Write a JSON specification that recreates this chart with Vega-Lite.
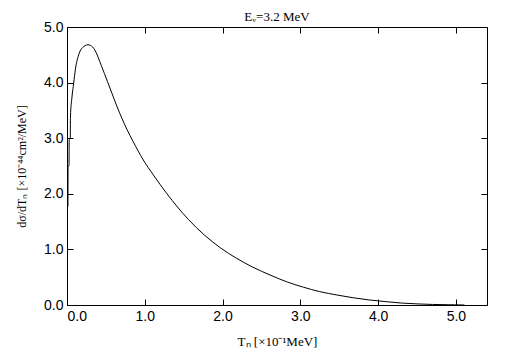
{
  "$schema": "https://vega.github.io/schema/vega-lite/v6.json",
  "width": 420,
  "height": 278,
  "autosize": {"type": "none"},
  "padding": {"left": 67, "top": 27, "right": 18, "bottom": 56},
  "background": "white",
  "title": {"text": "Eᵥ=3.2 MeV", "font": "Liberation Serif", "fontSize": 13, "fontWeight": "normal", "color": "black", "offset": -4, "anchor": "middle"},
  "config": {
    "view": {"stroke": "black", "strokeWidth": 1},
    "axis": {"domain": false, "grid": false, "tickColor": "black", "tickSize": -6, "tickWidth": 1,
      "labelFont": "Liberation Sans", "labelFontSize": 14, "labelColor": "black",
      "titleFont": "Liberation Serif", "titleFontSize": 13, "titleFontWeight": "normal", "titleColor": "black"}
  },
  "data": {"values": [
    {"t": 0.012, "s": 1.77}, {"t": 0.014, "s": 2.49}, {"t": 0.026, "s": 2.5}, {"t": 0.028, "s": 2.97},
    {"t": 0.042, "s": 3.0}, {"t": 0.044, "s": 3.38}, {"t": 0.064, "s": 3.74}, {"t": 0.086, "s": 3.99},
    {"t": 0.107, "s": 4.23}, {"t": 0.15, "s": 4.5}, {"t": 0.2, "s": 4.63}, {"t": 0.27, "s": 4.68},
    {"t": 0.33, "s": 4.64}, {"t": 0.364, "s": 4.57}, {"t": 0.44, "s": 4.31}, {"t": 0.52, "s": 4.02},
    {"t": 0.58, "s": 3.8}, {"t": 0.64, "s": 3.58}, {"t": 0.77, "s": 3.16}, {"t": 0.85, "s": 2.94}, {"t": 0.98, "s": 2.61},
    {"t": 1.11, "s": 2.34}, {"t": 1.28, "s": 2.01}, {"t": 1.56, "s": 1.54}, {"t": 1.97, "s": 1.03},
    {"t": 2.18, "s": 0.84}, {"t": 2.39, "s": 0.68}, {"t": 2.61, "s": 0.54}, {"t": 2.82, "s": 0.42},
    {"t": 3.04, "s": 0.32}, {"t": 3.25, "s": 0.24}, {"t": 3.47, "s": 0.18}, {"t": 3.68, "s": 0.13},
    {"t": 3.89, "s": 0.09}, {"t": 4.1, "s": 0.06}, {"t": 4.3, "s": 0.035}, {"t": 4.5, "s": 0.02},
    {"t": 4.7, "s": 0.01}, {"t": 4.9, "s": 0.005}, {"t": 5.11, "s": 0.0}
  ]},
  "layer": [
    {
      "mark": {"type": "line", "color": "black", "strokeWidth": 1, "clip": true, "interpolate": "monotone"},
      "encoding": {
        "x": {"field": "t", "type": "quantitative", "scale": {"domain": [0, 5.4], "nice": false, "zero": false},
          "axis": {"orient": "bottom", "values": [0, 1, 2, 3, 4, 5], "format": ".1f", "labelPadding": 10, "title": "Tₙ [×10⁻¹MeV]", "titlePadding": 12}},
        "y": {"field": "s", "type": "quantitative", "scale": {"domain": [0, 5], "nice": false},
          "axis": {"orient": "left", "values": [0, 1, 2, 3, 4, 5], "format": ".1f", "labelPadding": 10, "title": "dσ/dTₙ [×10⁻⁴⁴cm²/MeV]", "titleFontSize": 12, "titlePadding": 15}}
      }
    },
    {
      "mark": {"type": "line", "opacity": 0},
      "encoding": {
        "x": {"field": "t", "type": "quantitative", "scale": {"domain": [0, 5.4], "nice": false, "zero": false},
          "axis": {"orient": "top", "values": [0, 1, 2, 3, 4, 5], "labels": false, "title": null}},
        "y": {"field": "s", "type": "quantitative", "scale": {"domain": [0, 5], "nice": false},
          "axis": {"orient": "right", "values": [0, 1, 2, 3, 4, 5], "labels": false, "title": null}}
      }
    }
  ],
  "resolve": {"axis": {"x": "independent", "y": "independent"}}
}
